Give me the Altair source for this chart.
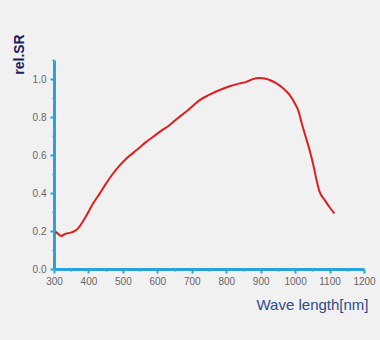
import altair as alt
import pandas as pd

wavelength = [305, 314, 322, 332, 345, 356, 370, 382, 395, 413, 433, 452, 472, 491, 511, 540, 565, 588, 612, 636, 660, 685, 705, 723, 750, 781, 810, 839, 854, 862, 875, 897, 912, 926, 945, 965, 984, 999, 1010, 1018, 1030, 1042, 1054, 1062, 1071, 1086, 1100, 1114]
rel_sr = [0.196, 0.182, 0.174, 0.184, 0.190, 0.196, 0.214, 0.245, 0.284, 0.343, 0.398, 0.452, 0.504, 0.545, 0.583, 0.626, 0.665, 0.696, 0.728, 0.758, 0.795, 0.830, 0.862, 0.889, 0.916, 0.942, 0.962, 0.977, 0.982, 0.988, 0.998, 1.005, 1.003, 0.995, 0.978, 0.951, 0.916, 0.872, 0.830, 0.775, 0.700, 0.626, 0.538, 0.470, 0.407, 0.363, 0.325, 0.293]

x_ticks = list(range(300, 1201, 50))
y_ticks = [round(i * 0.1, 1) for i in range(0, 12)]

df = pd.DataFrame({"wl": wavelength, "sr": rel_sr})

axis_blue = "#2aa3dd"
y_major = "abs(datum.value*10 % 2) < 0.01 || abs(datum.value*10 % 2 - 2) < 0.01"

chart = alt.Chart(df).mark_line(color="#e01e1e", strokeWidth=2, interpolate="monotone").encode(
    x=alt.X("wl:Q", scale=alt.Scale(domain=[300, 1200], nice=False, zero=False),
            axis=alt.Axis(values=x_ticks, title="Wave length[nm]", format="d",
                          labelExpr="datum.value % 100 === 0 ? datum.label : ''",
                          labelOverlap=False, labelFlush=False,
                          domainColor=axis_blue, domainWidth=3, tickColor=axis_blue,
                          tickWidth=2,
                          tickSize={"condition": {"test": "datum.value % 100 === 0", "value": 4}, "value": 2},
                          labelColor="#666666", labelFontSize=10, labelFont="Liberation Sans",
                          labelPadding=3, grid=False,
                          titleColor="#2b4c8c", titleFontSize=15, titleFont="Liberation Sans",
                          titleFontWeight="normal", titleAlign="right", titleBaseline="alphabetic",
                          titleX=314, titleY=40)),
    y=alt.Y("sr:Q", scale=alt.Scale(domain=[0, 1.1], nice=False),
            axis=alt.Axis(values=y_ticks, title="rel.SR", format=".1f",
                          labelExpr="(" + y_major + ") && datum.value < 1.05 ? datum.label : ''",
                          labelOverlap=False, labelFlush=False,
                          domainColor=axis_blue, domainWidth=3, tickColor=axis_blue,
                          tickWidth=2,
                          tickSize={"condition": {"test": y_major, "value": 4}, "value": 2},
                          labelColor="#666666", labelFontSize=10, labelFont="Liberation Sans",
                          labelPadding=4, grid=False,
                          titleColor="#1c2060", titleFontSize=14, titleFont="Liberation Sans",
                          titleFontWeight="bold", titleAngle=270, titleAlign="center",
                          titleBaseline="middle", titleX=-35, titleY=-6)),
).properties(
    width=310, height=209,
    background="#f1f1f1",
    autosize=alt.AutoSizeParams(type="none"),
    padding={"left": 54, "top": 60, "right": 16, "bottom": 71},
).configure_view(stroke=None)

chart.save("out.html", embed_options={"renderer": "svg", "actions": False})
